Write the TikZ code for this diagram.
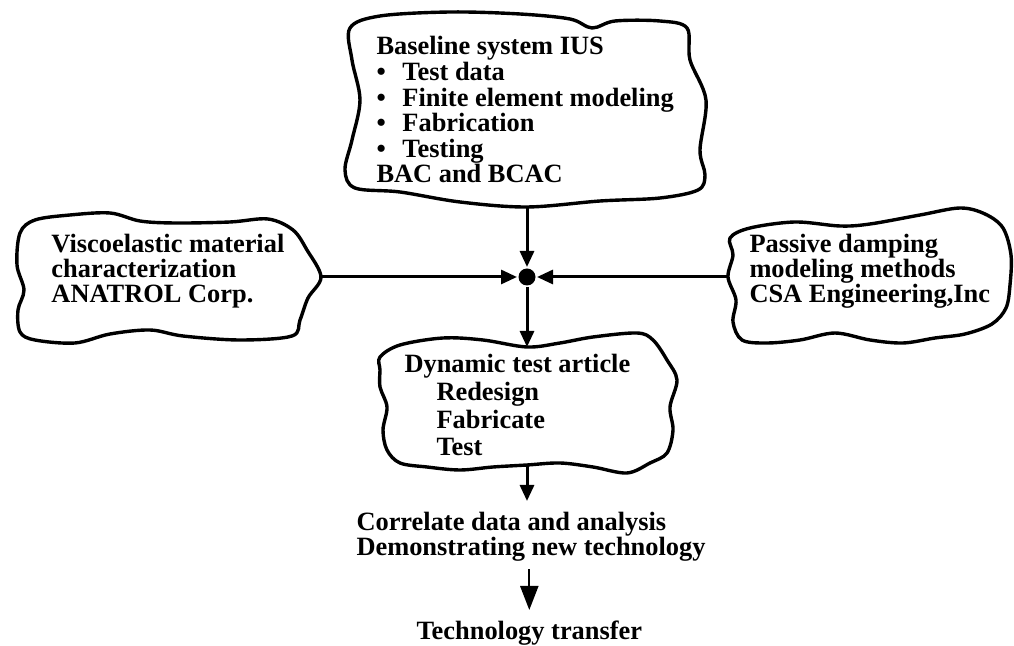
\documentclass[tikz,border=0pt]{standalone}
\usepackage{fontspec}
\setmainfont{Liberation Serif}
\usetikzlibrary{arrows.meta}
\newcommand\tightlines{\lineskiplimit=-20pt\relax}

\begin{document}
\begin{tikzpicture}[x=0.5pt,y=-0.5pt,->,>={Triangle[length=8pt,width=7pt]},line width=1.5pt]
\tikzstyle{txt}=[inner sep=0pt,anchor=north west,align=left,font=\bfseries\fontsize{13.2}{12.8}\selectfont\tightlines]
\tikzstyle{blob}=[-,draw,line width=1.7pt,line join=round]
\tikzstyle{dot}=[circle,fill=black,inner sep=0pt,minimum size=8.5pt]
\useasboundingbox (0,0) rectangle (1014,646);

\node[txt] (A) at (375,35) {Baseline system IUS\\
  \makebox[13pt][l]{\textbullet}Test data\\
  \makebox[13pt][l]{\textbullet}Finite element modeling\\
  \makebox[13pt][l]{\textbullet}Fabrication\\
  \makebox[13pt][l]{\textbullet}Testing\\
  BAC and BCAC};
\node[txt,font=\bfseries\fontsize{13.2}{12.5}\selectfont\tightlines] (B) at (50,233) {Viscoelastic material\\ characterization\\ ANATROL Corp.};
\node[txt,font=\bfseries\fontsize{13.2}{12.5}\selectfont\tightlines] (C) at (748,233) {Passive damping\\ modeling methods\\ CSA Engineering,Inc};
\node[txt,font=\bfseries\fontsize{13.2}{13.8}\selectfont\tightlines] (D) at (403,353) {Dynamic test article\\
  \hspace*{16pt}Redesign\\ \hspace*{16pt}Fabricate\\ \hspace*{16pt}Test};
\node[txt,font=\bfseries\fontsize{13.2}{12.1}\selectfont\tightlines] (E) at (355,511) {Correlate data and analysis\\ Demonstrating new technology};
\node[txt] (F) at (415,619) {Technology transfer};
\node[dot] (J) at (527,277) {};

\draw[blob] plot[smooth cycle,tension=0.55] coordinates {(350,28) (380,16) (450,12) (520,14) (570,19) (592,28) (615,21) (660,21) (687,28) (690,60) (706,100) (700,150) (705,175) (698,190) (660,198) (600,201) (527,207) (460,202) (400,192) (355,188) (345,170) (352,140) (360,100) (352,60)};
\draw[blob] plot[smooth cycle,tension=0.55] coordinates {(20,233) (35,220) (70,215) (110,213) (140,221) (175,223) (230,222) (268,219) (293,230) (307,250) (321,277) (308,298) (300,320) (292,336) (240,340) (183,336) (150,330) (110,334) (75,343) (35,340) (20,332) (18,310) (24,290) (17,265)};
\draw[blob] plot[smooth cycle,tension=0.55] coordinates {(730,238) (750,228) (795,222) (840,226) (870,224) (920,215) (960,208) (985,214) (1003,228) (1011,255) (1010,285) (1006,308) (992,324) (965,334) (935,338) (903,343) (870,340) (835,333) (800,340) (767,343) (742,340) (733,322) (736,300) (728,277) (733,255)};
\draw[blob] plot[smooth cycle,tension=0.55] coordinates {(380,357) (400,345) (443,338) (483,340) (527,347) (560,343) (593,337) (637,333) (653,340) (667,360) (677,380) (670,407) (673,430) (667,453) (650,463) (627,473) (593,467) (560,463) (527,465) (493,467) (460,470) (427,467) (400,463) (387,450) (383,430) (387,407) (380,387) (380,370)};

\coordinate (A1) at (527,207);
\coordinate (B1) at (321,277);
\coordinate (C1) at (728,277);
\coordinate (D1) at (527,347);
\coordinate (D2) at (527,465);

\draw (A1) -- (J);
\draw (B1) -- (J);
\draw (C1) -- (J);
\draw (J) -- (D1);
\draw[shorten >=5pt] (D2) -- (D2 |- E.north);
\draw[line width=1.1pt,>={Triangle[length=12pt,width=9pt]},shorten <=3.5pt,shorten >=4.5pt] (E.south -| F.north) -- (F.north);
\end{tikzpicture}
\end{document}
